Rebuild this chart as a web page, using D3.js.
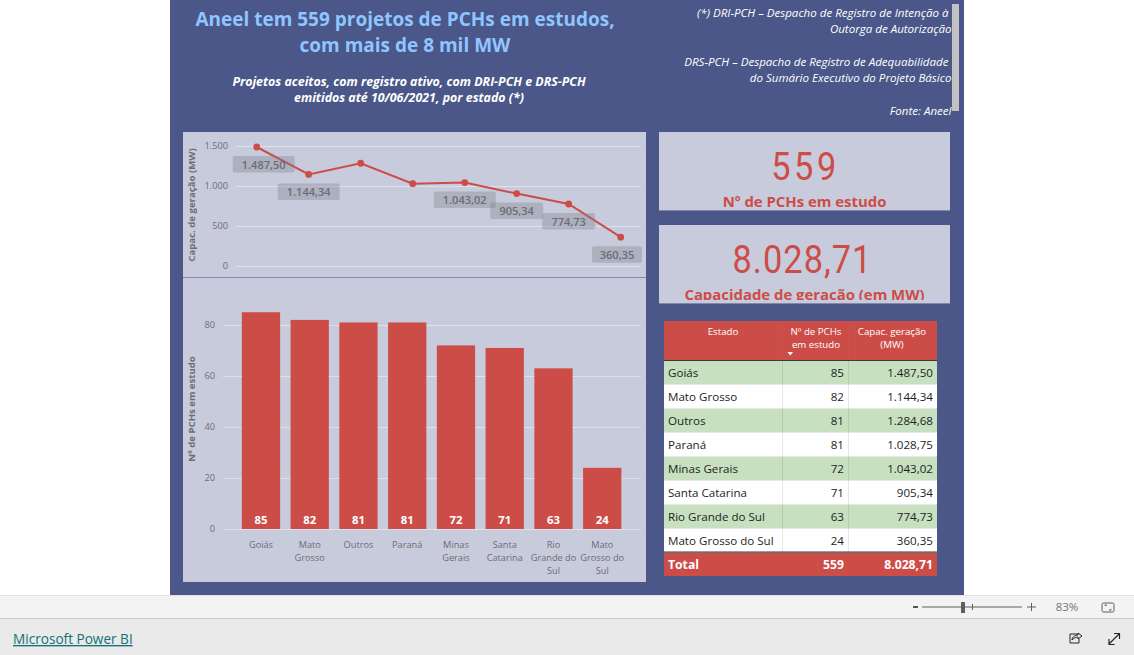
<!DOCTYPE html>
<html lang="pt-BR">
<head>
<meta charset="utf-8">
<script src="https://cdn.jsdelivr.net/npm/d3@7"></script>
<style>
html,body{margin:0;padding:0;background:#fff;overflow:hidden}
svg{display:block}
text{font-family:"Open Sans","Noto Sans",sans-serif}
.axis text{fill:#6c6d73;font-size:9.2px;font-weight:500}
.axis line{stroke:#dfe1ea;stroke-width:1}
.axis .domain{display:none}
</style>
</head>
<body>
<svg id="chart" width="1134" height="655"></svg>
<script>
// ---------- data ----------
const titleLines = ["Aneel tem 559 projetos de PCHs em estudos,", "com mais de 8 mil MW"];
const subtitleLines = ["Projetos aceitos, com registro ativo, com DRI-PCH e DRS-PCH", "emitidos até 10/06/2021, por estado (*)"];
const noteLines = ["(*) DRI-PCH – Despacho de Registro de Intenção à ", "Outorga de Autorização", "", "DRS-PCH – Despacho de Registro de Adequabilidade ", "do Sumário Executivo do Projeto Básico", "", "Fonte: Aneel"];
const states = ["Goiás", "Mato Grosso", "Outros", "Paraná", "Minas Gerais", "Santa Catarina", "Rio Grande do Sul", "Mato Grosso do Sul"];
const stateAxisLines = [["Goiás"], ["Mato", "Grosso"], ["Outros"], ["Paraná"], ["Minas", "Gerais"], ["Santa", "Catarina"], ["Rio", "Grande do", "Sul"], ["Mato", "Grosso do", "Sul"]];
const projects = [85, 82, 81, 81, 72, 71, 63, 24];
const capacity = [1487.50, 1144.34, 1284.68, 1028.75, 1043.02, 905.34, 774.73, 360.35];
const labelledStates = ["Goiás", "Mato Grosso", "Minas Gerais", "Santa Catarina", "Rio Grande do Sul", "Mato Grosso do Sul"];
const capacityTicks = [0, 500, 1000, 1500];
const projectTicks = [0, 20, 40, 60, 80];
const totalProjects = 559;
const totalCapacity = 8028.71;
const tableHeaders = [["Estado"], ["Nº de PCHs", "em estudo"], ["Capac. geração", "(MW)"]];

// ---------- styling ----------
const RED = "#cc4d47", BG = "#4a5788", PANEL = "#c8cbdb", GREY = "#6c6d73";
const svg = d3.select("#chart");
const br = d3.formatLocale({decimal: ",", thousands: ".", grouping: [3], currency: ["R$", ""]});
const fmtInt = br.format(",d"), fmt2 = br.format(",.2f");

const rect = (g, x, y, w, h, fill) => g.append("rect").attr("x", x).attr("y", y).attr("width", w).attr("height", h).attr("fill", fill);
const text = (g, x, y, s, size, fill, anchor = "middle", weight = 400, style = "normal") =>
  g.append("text").attr("x", x).attr("y", y).attr("text-anchor", anchor).attr("font-size", size)
   .attr("font-weight", weight).attr("font-style", style).attr("fill", fill).attr("xml:space", "preserve").text(s);

// ---------- page background ----------
rect(svg, 170, 0, 794, 595, BG);
rect(svg, 0, 595, 1134, 23, "#f3f3f3");
rect(svg, 0, 595, 1134, 1, "#e2e2e2");
rect(svg, 0, 618, 1134, 37, "#eaeaea");
rect(svg, 0, 618, 1134, 1, "#c8c8c8");

// ---------- headings ----------
titleLines.forEach((s, i) => text(svg, 405, 26 + i * 26, s, 19, "#90c5ff", "middle", 700));
subtitleLines.forEach((s, i) => text(svg, 409, 86 + i * 16, s, 12.4, "#fff", "middle", 700, "italic"));
noteLines.forEach((s, i) => { if (s) text(svg, 951.5, 17 + i * 16.35, s, 11.55, "#fff", "end", 400, "italic"); });
rect(svg, 952, 4, 7, 107, "#c2c2c2");

// ---------- panels ----------
rect(svg, 183, 132, 463, 145, PANEL);
rect(svg, 183, 278, 463, 304, PANEL);
rect(svg, 183, 277, 463, 1, "#8288ad");

// ---------- line chart ----------
const lineRows = states.map((s, i) => ({state: s, value: capacity[i]}));
const xLine = d3.scalePoint().domain(states).range([256.7, 620.7]);
const yLine = d3.scaleLinear().domain([0, 1500]).range([266, 146]);
const axisL = svg.append("g").attr("class", "axis").attr("transform", "translate(236,0)")
  .call(d3.axisLeft(yLine).tickValues(capacityTicks).tickFormat(fmtInt).tickSize(-405).tickPadding(8));
axisL.selectAll("text").attr("dy", "0.28em");
svg.append("text").attr("transform", "translate(195,205) rotate(-90)").attr("text-anchor", "middle")
  .attr("font-size", 9.6).attr("font-weight", 700).attr("fill", GREY).text("Capac. de geração (MW)");
svg.append("path").datum(lineRows).attr("fill", "none").attr("stroke", RED).attr("stroke-width", 2)
  .attr("d", d3.line().x(d => xLine(d.state)).y(d => yLine(d.value)));
svg.append("g").selectAll("circle").data(lineRows).join("circle")
  .attr("cx", d => xLine(d.state)).attr("cy", d => yLine(d.value)).attr("r", 3.4).attr("fill", RED);
const labelRows = lineRows.filter(d => labelledStates.includes(d.state)).map(d => {
  const w = d.value >= 1000 ? 62 : 53;
  const x0 = Math.min(Math.max(xLine(d.state) - w / 2, 232.7), 645 - w);
  const x1 = Math.min(x0 + w, 642);
  return {...d, x0, x1};
});
const lab = svg.append("g").selectAll("g").data(labelRows).join("g");
lab.append("rect").attr("x", d => d.x0).attr("y", d => yLine(d.value) + 9).attr("width", d => d.x1 - d.x0).attr("height", 16.5)
  .attr("rx", 2).attr("fill", "#7d7f8c").attr("fill-opacity", .36);
lab.append("text").attr("x", d => (d.x0 + d.x1) / 2).attr("y", d => yLine(d.value) + 21.5).attr("text-anchor", "middle")
  .attr("font-size", 11).attr("font-weight", 600).attr("fill", GREY).text(d => fmt2(d.value));

// ---------- bar chart ----------
const barRows = states.map((s, i) => ({state: s, value: projects[i], lines: stateAxisLines[i]}));
const xBar = d3.scaleBand().domain(states).range([236.6, 626.6]).paddingInner(.215).paddingOuter(.1075);
const yBar = d3.scaleLinear().domain([0, 80]).range([529, 325]);
const axisB = svg.append("g").attr("class", "axis").attr("transform", "translate(223,0)")
  .call(d3.axisLeft(yBar).tickValues(projectTicks).tickSize(-418).tickPadding(8));
axisB.selectAll("text").attr("dy", "0.28em");
svg.append("text").attr("transform", "translate(195,409) rotate(-90)").attr("text-anchor", "middle")
  .attr("font-size", 9.6).attr("font-weight", 700).attr("fill", GREY).text("Nº de PCHs em estudo");
svg.append("g").selectAll("rect").data(barRows).join("rect")
  .attr("x", d => xBar(d.state)).attr("width", xBar.bandwidth())
  .attr("y", d => yBar(d.value)).attr("height", d => yBar(0) - yBar(d.value)).attr("fill", RED);
svg.append("g").selectAll("text").data(barRows).join("text")
  .attr("x", d => xBar(d.state) + xBar.bandwidth() / 2).attr("y", 523.5).attr("text-anchor", "middle")
  .attr("font-size", 11.3).attr("font-weight", 700).attr("fill", "#fff").text(d => d.value);
const xTick = svg.append("g").selectAll("text").data(barRows).join("text")
  .attr("text-anchor", "middle").attr("font-size", 9.2).attr("font-weight", 500).attr("fill", GREY);
xTick.selectAll("tspan").data(d => d.lines.map(l => ({l, x: xBar(d.state) + xBar.bandwidth() / 2}))).join("tspan")
  .attr("x", d => d.x).attr("y", (d, i) => 548 + i * 13).text(d => d.l);

// ---------- KPI cards ----------
const defs = svg.append("defs");
function card(id, y, value, label, spacing, cx) {
  defs.append("clipPath").attr("id", id).append("rect").attr("x", 659).attr("y", y).attr("width", 291).attr("height", 75);
  rect(svg, 659, y, 291, 79, "#8288ad");
  rect(svg, 659, y, 291, 78, PANEL);
  const g = svg.append("g").attr("clip-path", `url(#${id})`);
  g.append("text").attr("transform", `translate(${cx},${y + 48}) scale(.88,1)`).attr("text-anchor", "middle")
    .attr("font-family", "Roboto").style("font-family", "Roboto").attr("font-size", 39).attr("fill", RED)
    .attr("letter-spacing", spacing + "px").text(value);
  text(g, 804.5, y + 75, label, 14.9, RED, "middle", 700);
}
card("c1", 132, fmtInt(totalProjects), "Nº de PCHs em estudo", 4, 805.5);
card("c2", 225, fmt2(totalCapacity), "Capacidade de geração (em MW)", 1.2, 802.5);

// ---------- table ----------
const tableRows = states.map((s, i) => ({state: s, n: projects[i], c: capacity[i]}));
const yRow = d3.scaleBand().domain(states).range([361, 553]);
const colLeft = 668, colN = 844, colC = 933;
rect(svg, 664, 321, 273, 40, RED);
[[723, 0], [816, 1], [892, 2]].forEach(([x, k]) => tableHeaders[k].forEach((s, i) =>
  text(svg, x, 335 + i * 13, s, 9.7, "#fff", "middle", 400)));
svg.append("path").attr("d", d3.line()([[787.5, 352], [793, 352], [790.2, 355.5]]) + "Z").attr("fill", "#fff");
rect(svg, 664, 360, 273, 1, "#3a3a3a");
const rowG = svg.append("g").selectAll("g").data(tableRows).join("g")
  .attr("transform", d => `translate(0,${yRow(d.state)})`);
rowG.append("rect").attr("x", 664).attr("width", 273).attr("height", yRow.bandwidth())
  .attr("fill", (d, i) => i % 2 ? "#fff" : "#c7e0c0");
rowG.append("rect").attr("x", 664).attr("y", yRow.bandwidth() - 1).attr("width", 273).attr("height", 1).attr("fill", "#e8e8ea");
rowG.append("text").attr("x", colLeft).attr("y", 16).attr("font-size", 11.6).attr("fill", "#1f1e1d").text(d => d.state);
rowG.append("text").attr("x", colN).attr("y", 16).attr("font-size", 11.6).attr("text-anchor", "end").attr("fill", "#1f1e1d").text(d => d.n);
rowG.append("text").attr("x", colC).attr("y", 16).attr("font-size", 11.6).attr("text-anchor", "end").attr("fill", "#1f1e1d").text(d => fmt2(d.c));
rect(svg, 782, 361, 1, 192, "#000").attr("fill-opacity", .09);
rect(svg, 848, 361, 1, 192, "#000").attr("fill-opacity", .09);
rect(svg, 782, 321, 1, 39, "#c45450"); rect(svg, 848, 321, 1, 39, "#c45450");
rect(svg, 664, 553, 273, 23, RED);
rect(svg, 664, 551.5, 273, 1.2, "#3a3a3a");
text(svg, colLeft, 569, "Total", 12.2, "#fff", "start", 700);
text(svg, colN, 569, fmtInt(totalProjects), 12.2, "#fff", "end", 700);
text(svg, colC, 569, fmt2(totalCapacity), 12.2, "#fff", "end", 700);

// ---------- viewer chrome ----------
text(svg, 13, 644, "Microsoft Power BI", 13.6, "#117277", "start", 400).attr("text-decoration", "underline");
rect(svg, 913, 606, 5, 2, "#555");
rect(svg, 922, 606.5, 100, 1, "#605e5c");
rect(svg, 961, 602, 4, 11, "#605e5c");
rect(svg, 972, 604, 1, 6, "#605e5c");
rect(svg, 1027, 606.5, 9, 1, "#605e5c"); rect(svg, 1031, 603, 1, 8, "#605e5c");
text(svg, 1067, 611, "83%", 11.5, "#767676");
svg.append("rect").attr("x", 1102).attr("y", 603).attr("width", 12).attr("height", 9).attr("rx", 1.5).attr("fill", "none").attr("stroke", "#605e5c");
svg.append("path").attr("d", "M1105 606v-1h2M1111 609v1h-2").attr("fill", "none").attr("stroke", "#605e5c");
svg.append("path").attr("d", "M1078 634h-8v9h9v-4M1072 640c0-3 3-5 6-5v-2l4 3-4 3v-2c-2 0-4 1-6 3z").attr("fill", "none").attr("stroke", "#252423");
svg.append("path").attr("d", "M1109 644l10-10M1114 633.5h5.5v5.5M1109 639v5.5h5.5").attr("fill", "none").attr("stroke", "#252423").attr("stroke-width", 1.2);
</script>
</body>
</html>
